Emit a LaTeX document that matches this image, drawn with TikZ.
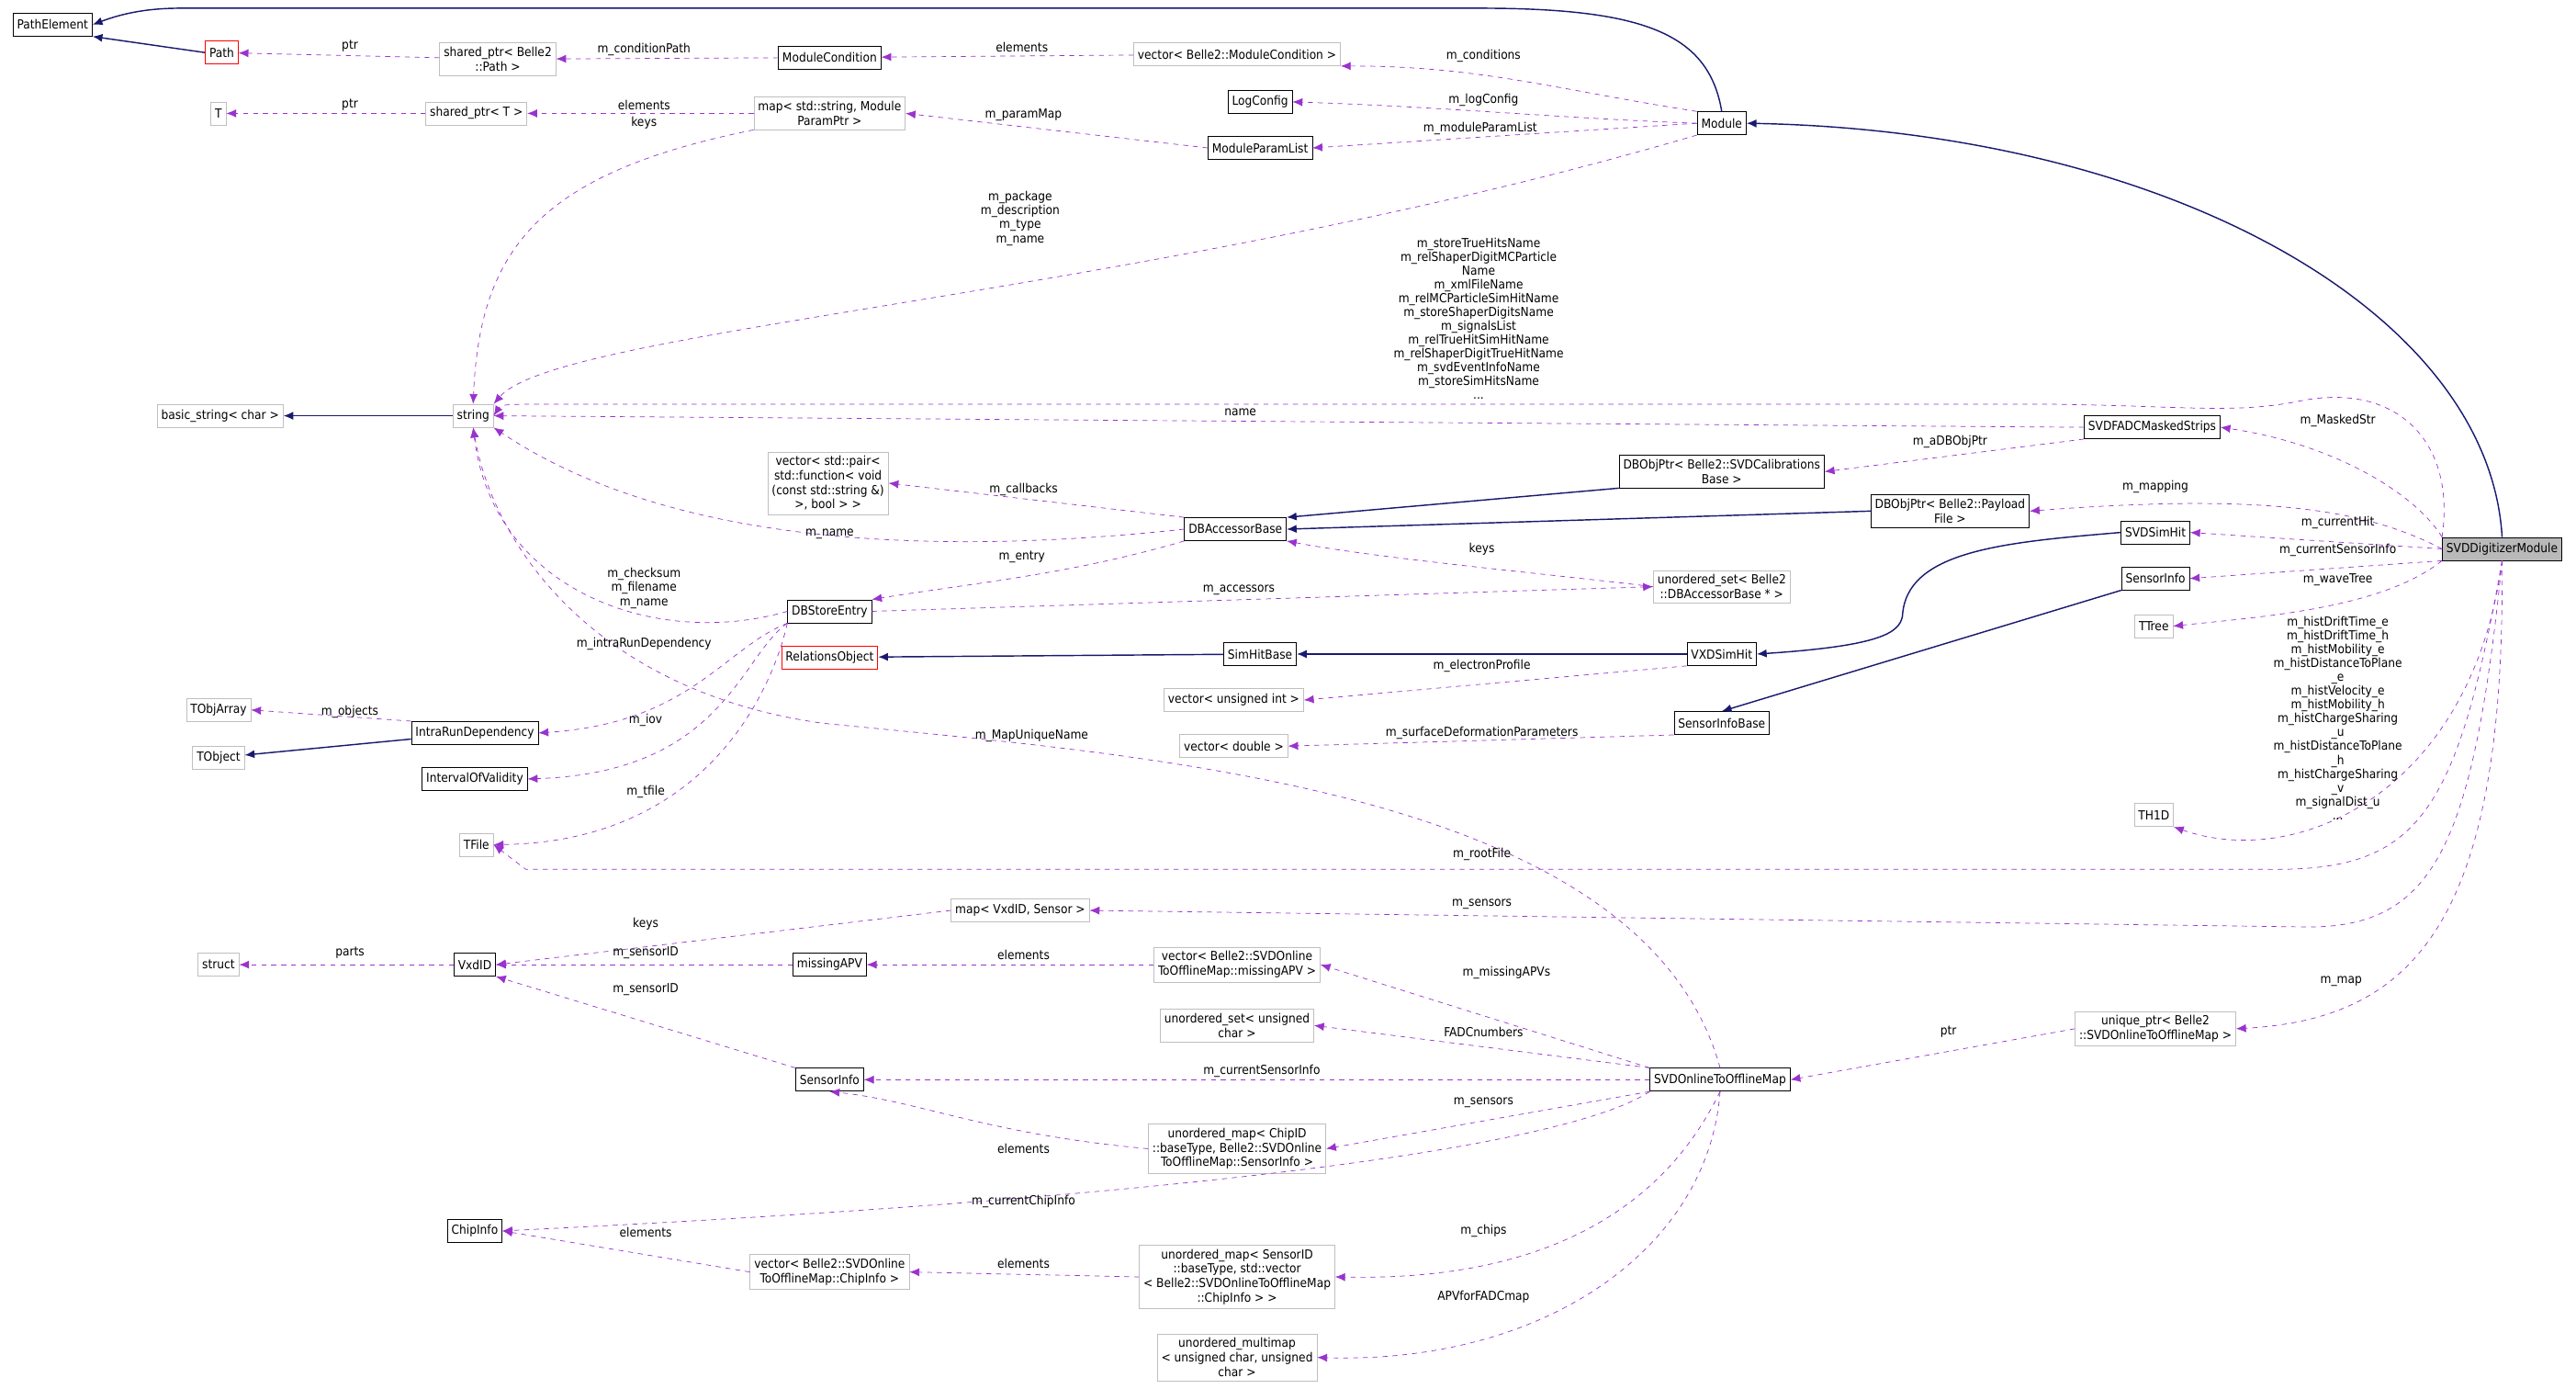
\documentclass[tikz,border=0pt]{standalone}
\usepackage{fontspec}
\setmainfont{DejaVu Sans Condensed}
\usetikzlibrary{arrows.meta,positioning,shapes}
\definecolor{inh}{HTML}{191970}
\definecolor{use}{HTML}{9A32CD}
\tikzset{
  cls/.style={draw=black,fill=white,inner sep=2.5pt,minimum height=14pt,align=center,font=\fontsize{7.6}{8.8}\selectfont},
  ext/.style={cls,draw=gray!50},
  red/.style={cls,draw=red},
  cur/.style={cls,fill=gray!55},
  inherit/.style={draw=inh,thick,-{Latex[length=6pt,width=5pt]}},
  member/.style={draw=use,dashed,-{Latex[length=6pt,width=5pt]}},
  lbl/.style={align=center,inner sep=0pt,font=\fontsize{7.6}{8.4}\selectfont}
}
\begin{document}
\begin{tikzpicture}[x=1pt,y=-1pt]
\useasboundingbox (0,0) rectangle (1568,845);
%% classes
\node[cls] (PathElement) at (32,15) {PathElement};
\node[red] (Path) at (135,32) {Path};
\node[ext] (SPPath) at (303,36) {shared\_ptr< Belle2\\::Path >};
\node[cls] (ModCond) at (505,35) {ModuleCondition};
\node[ext] (VecModCond) at (753,33) {vector< Belle2::ModuleCondition >};
\node[ext] (T) at (133,69) {T};
\node[ext] (SPT) at (290,69) {shared\_ptr< T >};
\node[ext] (MapParam) at (505,69) {map< std::string, Module\\ParamPtr >};
\node[cls] (LogConfig) at (767,62) {LogConfig};
\node[cls] (ModParamList) at (767,90) {ModuleParamList};
\node[cls] (Module) at (1048,75) {Module};
\node[ext] (BasicStr) at (134,253) {basic\_string< char >};
\node[ext] (String) at (288,253) {string};
\node[cls] (Masked) at (1310,260) {SVDFADCMaskedStrips};
\node[cls] (DBCalib) at (1048,287) {DBObjPtr< Belle2::SVDCalibrations\\Base >};
\node[ext] (VecPair) at (504,294) {vector< std::pair<\\std::function< void\\(const std::string \&)\\>, bool > >};
\node[cls] (DBAcc) at (752,322) {DBAccessorBase};
\node[cls] (DBPayload) at (1187,311) {DBObjPtr< Belle2::Payload\\File >};
\node[cls] (SVDSimHit) at (1312,324) {SVDSimHit};
\node[cur] (SVDD) at (1523,334) {SVDDigitizerModule};
\node[cls] (SensorInfoR) at (1312,352) {SensorInfo};
\node[ext] (TTree) at (1311,381) {TTree};
\node[ext] (USetAcc) at (1048,357) {unordered\_set< Belle2\\::DBAccessorBase * >};
\node[cls] (DBSE) at (505,372) {DBStoreEntry};
\node[red] (RelObj) at (505,400) {RelationsObject};
\node[cls] (SimHitBase) at (767,398) {SimHitBase};
\node[cls] (VXDSimHit) at (1048,398) {VXDSimHit};
\node[ext] (TObjArray) at (133,432) {TObjArray};
\node[cls] (IRD) at (289,446) {IntraRunDependency};
\node[ext] (TObject) at (133,461) {TObject};
\node[ext] (VecUInt) at (751,426) {vector< unsigned int >};
\node[cls] (SIBase) at (1048,440) {SensorInfoBase};
\node[cls] (IOV) at (289,474) {IntervalOfValidity};
\node[ext] (VecDbl) at (751,454) {vector< double >};
\node[ext] (TH1D) at (1311,496) {TH1D};
\node[ext] (TFile) at (290,514) {TFile};
\node[ext] (MapVxd) at (621,554) {map< VxdID, Sensor >};
\node[ext] (Struct) at (133,587) {struct};
\node[cls] (VxdID) at (289,587) {VxdID};
\node[cls] (MissAPV) at (505,587) {missingAPV};
\node[ext] (VecMiss) at (753,587) {vector< Belle2::SVDOnline\\ToOfflineMap::missingAPV >};
\node[ext] (USetUC) at (753,624) {unordered\_set< unsigned\\char >};
\node[ext] (UPtr) at (1312,626) {unique\_ptr< Belle2\\::SVDOnlineToOfflineMap >};
\node[cls] (SensorInfoL) at (505,657) {SensorInfo};
\node[cls] (SVDO) at (1047,657) {SVDOnlineToOfflineMap};
\node[ext] (UMapChip) at (753,699) {unordered\_map< ChipID\\::baseType, Belle2::SVDOnline\\ToOfflineMap::SensorInfo >};
\node[cls] (ChipInfo) at (289,749) {ChipInfo};
\node[ext] (VecChip) at (505,774) {vector< Belle2::SVDOnline\\ToOfflineMap::ChipInfo >};
\node[ext] (UMapSens) at (753,777) {unordered\_map< SensorID\\::baseType, std::vector\\< Belle2::SVDOnlineToOfflineMap\\::ChipInfo > >};
\node[ext] (UMulti) at (753,826) {unordered\_multimap\\< unsigned char, unsigned\\char >};
%% inheritance
\draw[inherit] (Module.north) .. controls (1040,20) and (1000,5) .. (900,5) -- (110,5) .. controls (90,5) and (75,8) .. (PathElement.east);
\draw[inherit] (Path.west) -- (PathElement.south east);
\draw[inherit] (SVDD.north) .. controls (1515,190) and (1320,80) .. (Module.east);
\draw[inherit] (String) -- (BasicStr);
\draw[inherit] (DBCalib.south west) -- (DBAcc.north east);
\draw[inherit] (DBPayload.west) -- (DBAcc.east);
\draw[inherit] (SimHitBase) -- (RelObj);
\draw[inherit] (VXDSimHit) -- (SimHitBase);
\draw[inherit] (SVDSimHit.west) .. controls (1220,330) and (1160,335) .. (1158,375) .. controls (1156,385) and (1145,393) .. (VXDSimHit.east);
\draw[inherit] (SensorInfoR.south west) -- (SIBase.north);
\draw[inherit] (IRD) -- (TObject);
%% members
\draw[member] (SPPath) -- (Path);
\draw[member] (ModCond) -- (SPPath);
\draw[member] (VecModCond) -- (ModCond);
\draw[member] (Module.north west) .. controls (950,55) and (900,40) .. (VecModCond.south east);
\draw[member] (SPT) -- (T);
\draw[member] (MapParam.west) -- (SPT);
\draw[member] (MapParam.south west) .. controls (330,105) and (292,150) .. (String.north);
\draw[member] (ModParamList.west) -- (MapParam.east);
\draw[member] (Module.west) .. controls (950,72) and (880,65) .. (LogConfig.east);
\draw[member] (Module.west) -- (ModParamList.east);
\draw[member] (Module.south west) .. controls (700,180) and (340,200) .. (String.north east);
\draw[member] (SVDD.north west) .. controls (1495,270) and (1460,232) .. (1400,244) .. controls (1360,252) and (1330,247) .. (1250,246) -- (330,246) .. controls (310,246) and (305,246) .. (String.east);
\draw[member] (Masked.west) -- (String.east);
\draw[member] (Masked.south west) -- (DBCalib.east);
\draw[member] (SVDD.north west) .. controls (1470,300) and (1420,270) .. (Masked.east);
\draw[member] (SVDD.west) .. controls (1440,310) and (1380,300) .. (DBPayload.east);
\draw[member] (SVDD.west) -- (SVDSimHit.east);
\draw[member] (SVDD.south west) -- (SensorInfoR.east);
\draw[member] (SVDD.south west) .. controls (1450,370) and (1380,375) .. (TTree.east);
\draw[member] (SVDD.south) .. controls (1505,480) and (1400,530) .. (TH1D.south east);
\draw[member] (SVDD.south) .. controls (1495,500) and (1470,530) .. (1380,529) -- (320,529) -- (TFile.east);
\draw[member] (SVDD.south) .. controls (1505,520) and (1480,566) .. (1400,564) -- (MapVxd.east);
\draw[member] (SVDD.south) .. controls (1525,560) and (1470,620) .. (UPtr.east);
\draw[member] (DBAcc.north west) -- (VecPair.east);
\draw[member] (DBAcc.west) .. controls (600,335) and (420,340) .. (String.south east);
\draw[member] (DBAcc.south west) .. controls (650,350) and (590,355) .. (DBSE.north east);
\draw[member] (USetAcc.west) .. controls (950,350) and (840,340) .. (DBAcc.south east);
\draw[member] (DBSE.east) -- (USetAcc.west);
\draw[member] (DBSE.west) .. controls (400,395) and (300,360) .. (String.south);
\draw[member] (DBSE.south west) .. controls (440,395) and (420,440) .. (IRD.east);
\draw[member] (DBSE.south west) .. controls (450,400) and (440,470) .. (IOV.east);
\draw[member] (DBSE.south west) .. controls (470,420) and (430,512) .. (TFile.east);
\draw[member] (IRD.north west) -- (TObjArray.east);
\draw[member] (VXDSimHit.south west) -- (VecUInt.east);
\draw[member] (SIBase.south west) -- (VecDbl.east);
\draw[member] (SVDO.north) .. controls (1000,480) and (700,460) .. (500,440) .. controls (360,420) and (300,330) .. (String.south);
\draw[member] (MapVxd.west) -- (VxdID.east);
\draw[member] (VxdID) -- (Struct);
\draw[member] (MissAPV) -- (VxdID);
\draw[member] (VecMiss) -- (MissAPV);
\draw[member] (SensorInfoL.north west) -- (VxdID.south east);
\draw[member] (SVDO.north west) -- (VecMiss.east);
\draw[member] (SVDO.north west) -- (USetUC.east);
\draw[member] (SVDO.west) -- (SensorInfoL.east);
\draw[member] (SVDO.south west) -- (UMapChip.east);
\draw[member] (UMapChip.west) .. controls (600,690) and (560,670) .. (SensorInfoL.south);
\draw[member] (SVDO.south west) .. controls (950,700) and (700,730) .. (ChipInfo.east);
\draw[member] (VecChip.west) -- (ChipInfo.east);
\draw[member] (UMapSens.west) -- (VecChip.east);
\draw[member] (SVDO.south) .. controls (1020,720) and (960,780) .. (UMapSens.east);
\draw[member] (SVDO.south) .. controls (1040,760) and (940,830) .. (UMulti.east);
\draw[member] (UPtr.west) -- (SVDO.east);
%% labels
\node[lbl] at (213,28) {ptr};
\node[lbl] at (392,30) {m\_conditionPath};
\node[lbl] at (622,29) {elements};
\node[lbl] at (903,34) {m\_conditions};
\node[lbl] at (213,64) {ptr};
\node[lbl] at (392,64) {elements};
\node[lbl] at (392,75) {keys};
\node[lbl] at (623,70) {m\_paramMap};
\node[lbl] at (903,61) {m\_logConfig};
\node[lbl] at (901,78) {m\_moduleParamList};
\node[lbl] at (621,133) {m\_package\\m\_description\\m\_type\\m\_name};
\node[lbl] at (900,194) {m\_storeTrueHitsName\\m\_relShaperDigitMCParticle\\Name\\m\_xmlFileName\\m\_relMCParticleSimHitName\\m\_storeShaperDigitsName\\m\_signalsList\\m\_relTrueHitSimHitName\\m\_relShaperDigitTrueHitName\\m\_svdEventInfoName\\m\_storeSimHitsName\\...};
\node[lbl] at (755,251) {name};
\node[lbl] at (1187,269) {m\_aDBObjPtr};
\node[lbl] at (1423,256) {m\_MaskedStr};
\node[lbl] at (1312,296) {m\_mapping};
\node[lbl] at (1423,318) {m\_currentHit};
\node[lbl] at (1423,335) {m\_currentSensorInfo};
\node[lbl] at (1423,353) {m\_waveTree};
\node[lbl] at (1423,437) {m\_histDriftTime\_e\\m\_histDriftTime\_h\\m\_histMobility\_e\\m\_histDistanceToPlane\\\_e\\m\_histVelocity\_e\\m\_histMobility\_h\\m\_histChargeSharing\\\_u\\m\_histDistanceToPlane\\\_h\\m\_histChargeSharing\\\_v\\m\_signalDist\_u\\...};
\node[lbl] at (902,520) {m\_rootFile};
\node[lbl] at (902,550) {m\_sensors};
\node[lbl] at (1425,597) {m\_map};
\node[lbl] at (623,298) {m\_callbacks};
\node[lbl] at (505,325) {m\_name};
\node[lbl] at (622,339) {m\_entry};
\node[lbl] at (754,359) {m\_accessors};
\node[lbl] at (902,334) {keys};
\node[lbl] at (392,358) {m\_checksum\\m\_filename\\m\_name};
\node[lbl] at (392,392) {m\_intraRunDependency};
\node[lbl] at (393,438) {m\_iov};
\node[lbl] at (393,482) {m\_tfile};
\node[lbl] at (213,433) {m\_objects};
\node[lbl] at (902,405) {m\_electronProfile};
\node[lbl] at (902,446) {m\_surfaceDeformationParameters};
\node[lbl] at (628,448) {m\_MapUniqueName};
\node[lbl] at (393,562) {keys};
\node[lbl] at (213,580) {parts};
\node[lbl] at (393,580) {m\_sensorID};
\node[lbl] at (623,581) {elements};
\node[lbl] at (393,602) {m\_sensorID};
\node[lbl] at (917,592) {m\_missingAPVs};
\node[lbl] at (903,628) {FADCnumbers};
\node[lbl] at (768,652) {m\_currentSensorInfo};
\node[lbl] at (903,671) {m\_sensors};
\node[lbl] at (623,699) {elements};
\node[lbl] at (623,731) {m\_currentChipInfo};
\node[lbl] at (393,750) {elements};
\node[lbl] at (623,769) {elements};
\node[lbl] at (903,749) {m\_chips};
\node[lbl] at (903,789) {APVforFADCmap};
\node[lbl] at (1186,628) {ptr};
\end{tikzpicture}
\end{document}
